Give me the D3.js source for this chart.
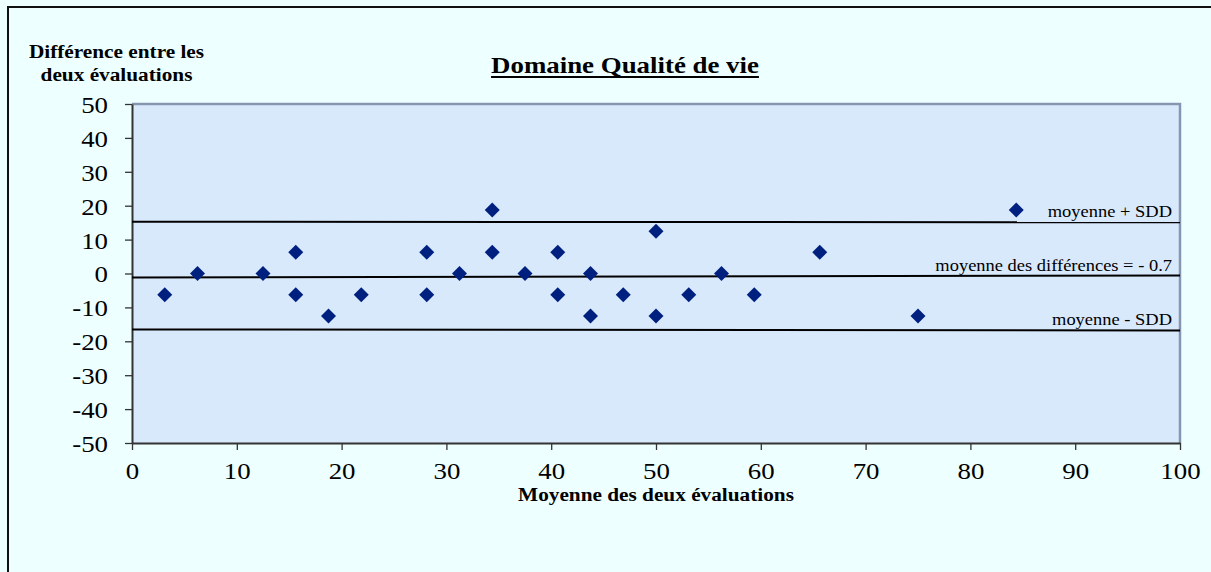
<!DOCTYPE html>
<html>
<head>
<meta charset="utf-8">
<script src="https://cdn.jsdelivr.net/npm/d3@7"></script>
<style>
  body { margin: 0; background: #eeffff; }
  svg { display: block; }
  text { font-family: "Liberation Serif", "Times New Roman", serif; fill: #000; }
</style>
</head>
<body>
<div id="chart"></div>
<script>
// x = moyenne des deux évaluations, y = différence entre les deux évaluations
var meanValues = [3.125, 6.25, 12.5, 15.625, 15.625, 18.75, 21.875, 28.125, 28.125, 31.25,
    34.375, 34.375, 37.5, 40.625, 40.625, 43.75, 43.75, 46.875, 50, 50,
    53.125, 56.25, 59.375, 65.625, 75, 84.375];
var diffValues = [-6.25, 0, 0, 6.25, -6.25, -12.5, -6.25, 6.25, -6.25, 0,
    18.75, 6.25, 0, 6.25, -6.25, 0, -12.5, -6.25, 12.5, -12.5,
    -6.25, 0, -6.25, 6.25, -12.5, 18.75];

// reference lines (drawn by hand in the original, slightly tilted)
var refLabels = ["moyenne + SDD", "moyenne des différences = - 0.7", "moyenne - SDD"];
var refStart = [15.3, -1.2, -16.5];
var refEnd = [15.1, -0.6, -16.8];

var xTicks = [0, 10, 20, 30, 40, 50, 60, 70, 80, 90, 100];
var yTicks = [-50, -40, -30, -20, -10, 0, 10, 20, 30, 40, 50];

var chartTitle = "Domaine Qualité de vie";
var yTitle = ["Différence entre les", "deux évaluations"];
var xTitle = "Moyenne des deux évaluations";

var width = 1211, height = 572;
var plotLeft = 132, plotRight = 1180, plotTop = 104, plotBottom = 443;
var SX = 1.12; // the source picture is a bit wider than tall

var svg = d3.select("#chart").append("svg")
    .attr("width", width)
    .attr("height", height);

svg.append("rect")
    .attr("x", 0).attr("y", 0).attr("width", width).attr("height", height)
    .attr("fill", "#eeffff");

// outer chart border (goes past the window on the right and bottom)
svg.append("rect")
    .attr("x", 8).attr("y", 7).attr("width", 1400).attr("height", 800)
    .attr("fill", "#eeffff")
    .attr("stroke", "#111")
    .attr("stroke-width", 2);

var x = d3.scaleLinear().domain([0, 100]).range([plotLeft, plotRight]);
var y = d3.scaleLinear().domain([-50, 50]).range([plotBottom, plotTop]);

// plot area
svg.append("rect")
    .attr("x", plotLeft).attr("y", plotTop)
    .attr("width", plotRight - plotLeft).attr("height", plotBottom - plotTop)
    .attr("fill", "#d9e9fc");
svg.append("path")
    .attr("d", "M" + plotLeft + "," + plotTop + "H" + plotRight + "V" + plotBottom)
    .attr("fill", "none")
    .attr("stroke", "#8796b0")
    .attr("stroke-width", 2.5);

function place(sel, px, py) {
    return sel.attr("transform", "translate(" + px + "," + py + ") scale(" + SX + ",1)");
}

function plain(d) { return String(d); } // keep the hyphen minus of the original

// y axis
var yAxis = svg.append("g")
    .attr("transform", "translate(" + plotLeft + ",0)")
    .call(d3.axisLeft(y).tickValues(yTicks).tickFormat(plain).tickSize(7).tickSizeOuter(0));
yAxis.attr("font-family", null);
yAxis.select(".domain").attr("stroke", "#333").attr("stroke-width", 2);
yAxis.selectAll(".tick line").attr("stroke", "#333").attr("stroke-width", 1.3);
yAxis.selectAll(".tick text")
    .attr("x", -24 / SX)
    .attr("dy", "0.35em")
    .attr("transform", "scale(" + SX + ",1)")
    .style("font-size", "24px");

// x axis
var xAxis = svg.append("g")
    .attr("transform", "translate(0," + plotBottom + ")")
    .call(d3.axisBottom(x).tickValues(xTicks).tickFormat(plain).tickSize(7).tickSizeOuter(0));
xAxis.attr("font-family", null);
xAxis.select(".domain").attr("stroke", "#333").attr("stroke-width", 2);
xAxis.selectAll(".tick line").attr("stroke", "#333").attr("stroke-width", 1.3);
xAxis.selectAll(".tick text")
    .attr("y", 36)
    .attr("dy", 0)
    .attr("transform", "scale(" + SX + ",1)")
    .style("font-size", "24px");

// reference lines
var refs = d3.range(refLabels.length);
svg.selectAll(".ref")
    .data(refs)
    .enter().append("line")
    .attr("class", "ref")
    .attr("x1", x(0)).attr("x2", x(100))
    .attr("y1", function(i) { return y(refStart[i]); })
    .attr("y2", function(i) { return y(refEnd[i]); })
    .attr("stroke", "#000")
    .attr("stroke-width", 2);

svg.selectAll(".refLabel")
    .data(refs)
    .enter().append("text")
    .attr("class", "refLabel")
    .attr("text-anchor", "end")
    .style("font-size", "16.5px")
    .each(function(i) { place(d3.select(this), x(100) - 8, y(refEnd[i]) - 5); })
    .text(function(i) { return refLabels[i]; });

// points
var points = d3.range(meanValues.length);
svg.selectAll(".pt")
    .data(points)
    .enter().append("path")
    .attr("class", "pt")
    .attr("d", "M0,-7.5L7.5,0L0,7.5L-7.5,0Z")
    .attr("transform", function(i) { return "translate(" + x(meanValues[i]) + "," + y(diffValues[i]) + ")"; })
    .attr("fill", "#002080");

// titles
var title = place(svg.append("text"), 625, 73)
    .attr("text-anchor", "middle")
    .style("font-size", "24px")
    .style("font-weight", "bold")
    .text(chartTitle);
var tw = title.node().getComputedTextLength() * SX;
svg.append("line")
    .attr("x1", 625 - tw / 2).attr("x2", 625 + tw / 2)
    .attr("y1", 77).attr("y2", 77)
    .attr("stroke", "#000").attr("stroke-width", 2);

yTitle.forEach(function(t, i) {
    place(svg.append("text"), 116.5, 58 + i * 23)
        .attr("text-anchor", "middle")
        .style("font-size", "19px")
        .style("font-weight", "bold")
        .text(t);
});

place(svg.append("text"), (plotLeft + plotRight) / 2, 501)
    .attr("text-anchor", "middle")
    .style("font-size", "19px")
    .style("font-weight", "bold")
    .text(xTitle);
</script>
</body>
</html>
